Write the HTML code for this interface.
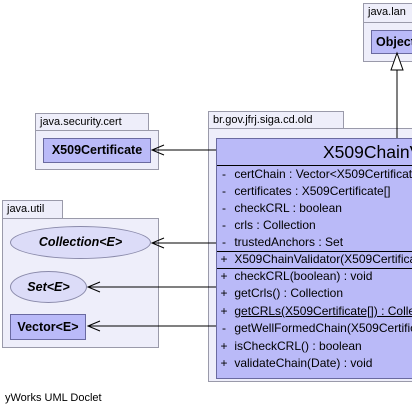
<!DOCTYPE html>
<html><head><style>
body{margin:0;width:412px;height:415px;overflow:hidden;background:#fff;font-family:"Liberation Sans",sans-serif;position:relative}
div{position:absolute;box-sizing:border-box}
.tab{background:#eeeefa;border:1px solid #9a9aaa;font-size:11px;padding-left:4px;line-height:16px;color:#000}
.pk{background:#eeeefa;border:1px solid #9a9aaa}
.cls{background:#babaf8;border:1px solid #6a6aa0;font-weight:bold;font-size:12.5px;text-align:center}
.ell{background:#dcdcf8;border:1px solid #8a8aaa;border-radius:50%;font-weight:bold;font-style:italic;font-size:12.5px;text-align:center}
.row{font-size:12px;line-height:17px;white-space:nowrap;left:0;width:300px}
.row span{display:inline-block;width:14px;text-align:center}
</style></head><body>
<div class="tab" style="left:363px;top:3px;width:60px;height:20px">java.lan</div>
<div class="pk" style="left:363px;top:22px;width:60px;height:40px"></div>
<div class="cls" style="left:371px;top:30px;width:50px;height:24px;line-height:22px;text-align:left;padding-left:4px">Object</div>
<div class="tab" style="left:208px;top:111px;width:136px;height:18px">br.gov.jfrj.siga.cd.old</div>
<div class="pk" style="left:208px;top:128px;width:210px;height:254px"></div>
<div style="left:216px;top:138px;width:200px;height:241px;background:#babaf8;border:1px solid #6a6aa0;overflow:hidden">
 <div style="left:106px;top:3px;font-size:17.5px;white-space:nowrap">X509ChainValidator</div>
 <div style="left:0;top:26px;width:200px;border-top:1px solid #000"></div>
 <div class="row" style="top:27px"><span>-</span> certChain : Vector&lt;X509Certificate&gt;<br><span>-</span> certificates : X509Certificate[]<br><span>-</span> checkCRL : boolean<br><span>-</span> crls : Collection<br><span>-</span> trustedAnchors : Set</div>
 <div style="left:0;top:112px;width:200px;border-top:1px solid #000"></div>
 <div class="row" style="top:112px"><span>+</span> X509ChainValidator(X509Certificate[])</div>
 <div style="left:0;top:129px;width:200px;border-top:1px solid #000"></div>
 <div class="row" style="top:129px;line-height:17.4px"><span>+</span> checkCRL(boolean) : void<br><span>+</span> getCrls() : Collection<br><span>+</span> <u>getCRLs(X509Certificate[]) : Collection</u><br><span>-</span> getWellFormedChain(X509Certificate[])<br><span>+</span> isCheckCRL() : boolean<br><span>+</span> validateChain(Date) : void</div>
</div>
<div class="tab" style="left:35px;top:113px;width:114px;height:18px">java.security.cert</div>
<div class="pk" style="left:35px;top:130px;width:124px;height:40px"></div>
<div class="cls" style="left:43px;top:138px;width:108px;height:25px;line-height:23px">X509Certificate</div>
<div class="tab" style="left:2px;top:200px;width:61px;height:19px">java.util</div>
<div class="pk" style="left:2px;top:218px;width:157px;height:130px"></div>
<div class="ell" style="left:10px;top:226px;width:141px;height:33px;line-height:31px">Collection&lt;E&gt;</div>
<div class="ell" style="left:10px;top:271px;width:77px;height:32px;line-height:30px">Set&lt;E&gt;</div>
<div class="cls" style="left:10px;top:314px;width:76px;height:26px;line-height:24px">Vector&lt;E&gt;</div>
<svg width="412" height="415" style="position:absolute;left:0;top:0">
<g stroke="#000" fill="none" stroke-width="1">
<line x1="397" y1="70" x2="397" y2="138"/>
<polygon points="397,53 391,70 403,70" fill="#fff"/>
<line x1="152" y1="150" x2="216" y2="150"/><polyline points="164,145 152,150 164,155"/>
<line x1="152" y1="243" x2="216" y2="243"/><polyline points="164,238 152,243 164,248"/>
<line x1="88" y1="287" x2="216" y2="287"/><polyline points="100,282 88,287 100,292"/>
<line x1="88" y1="326" x2="216" y2="326"/><polyline points="100,321 88,326 100,331"/>
</g></svg>
<div style="left:5px;top:392px;font-size:11px">yWorks UML Doclet</div>
</body></html>
